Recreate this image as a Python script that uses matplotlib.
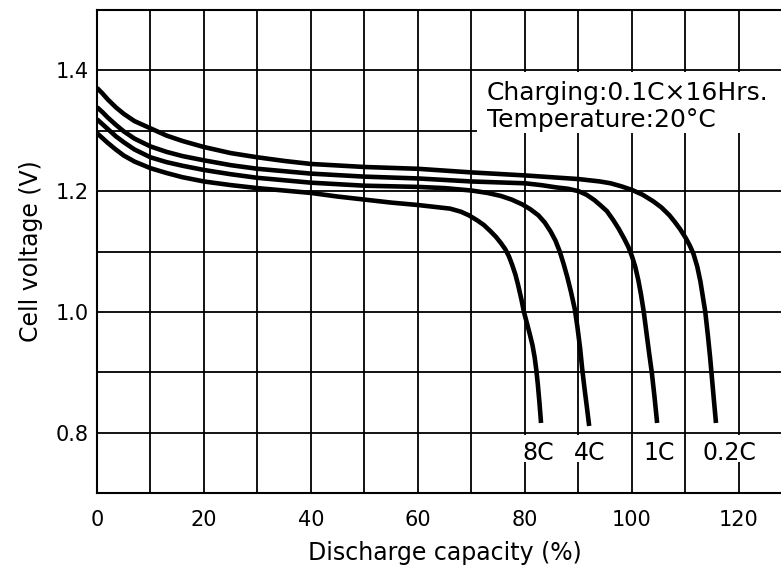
import matplotlib
matplotlib.use("Agg")
import matplotlib.pyplot as plt
from matplotlib.patches import Rectangle
from matplotlib.ticker import MultipleLocator

plt.rcParams['font.family'] = ['DejaVu Sans']

# discharge curves: capacity (%) and cell voltage (V)
cap_02C = [0, 1, 2, 3.5, 5, 7, 10, 13, 16, 20, 25, 30, 35, 40, 50, 60, 70,
           80, 90, 94, 96, 98, 100, 102, 104, 105.5, 107, 108, 109, 110,
           110.8, 111.5, 112.2, 112.8, 113.3, 113.7, 114.2, 114.6, 114.9,
           115.3, 115.7]
volt_02C = [1.371, 1.362, 1.352, 1.339, 1.328, 1.316, 1.304, 1.292, 1.283,
            1.273, 1.263, 1.256, 1.250, 1.245, 1.240, 1.237, 1.231, 1.226,
            1.220, 1.216, 1.213, 1.208, 1.202, 1.194, 1.183, 1.173, 1.160,
            1.149, 1.137, 1.123, 1.110, 1.096, 1.075, 1.050, 1.022, 1.000,
            0.960, 0.925, 0.895, 0.855, 0.816]

cap_1C = [0, 1, 2, 3.5, 5, 7, 10, 13, 16, 20, 25, 30, 40, 50, 60, 70, 80,
          83, 86, 88, 90, 91.5, 93, 94.3, 95.3, 96.5, 97.5, 98.5, 99.3,
          100.0, 100.6, 101.2, 101.7, 102.2, 102.7, 103.2, 103.7, 104.2,
          104.7]
volt_1C = [1.339, 1.331, 1.322, 1.310, 1.299, 1.287, 1.274, 1.265, 1.258,
           1.251, 1.243, 1.237, 1.229, 1.224, 1.221, 1.216, 1.213, 1.210,
           1.206, 1.204, 1.200, 1.194, 1.185, 1.175, 1.167, 1.152, 1.138,
           1.122, 1.108, 1.092, 1.075, 1.052, 1.028, 1.000, 0.966, 0.932,
           0.900, 0.860, 0.816]

cap_4C = [0, 1, 2, 3.5, 5, 7, 10, 13, 16, 20, 25, 30, 40, 50, 60, 65, 70,
          73, 75.5, 77.5, 79.5, 81, 82.5, 83.7, 84.8, 85.7, 86.5, 87.2,
          87.9, 88.6, 89.3, 89.8, 90.3, 90.7, 91.1, 91.6, 92.0]
volt_4C = [1.319, 1.311, 1.303, 1.291, 1.281, 1.269, 1.256, 1.248, 1.242,
           1.235, 1.228, 1.222, 1.214, 1.209, 1.207, 1.205, 1.201, 1.197,
           1.192, 1.186, 1.178, 1.170, 1.160, 1.148, 1.133, 1.118, 1.100,
           1.080, 1.058, 1.033, 1.005, 0.975, 0.940, 0.905, 0.875, 0.840,
           0.811]

cap_8C = [0, 1, 2, 3.5, 5, 7, 10, 13, 16, 20, 25, 30, 40, 45, 50, 55, 60,
          64, 66, 68, 69.5, 71, 72.3, 73.5, 74.6, 75.5, 76.3, 77.0, 77.6,
          78.2, 78.7, 79.3, 79.8, 80.4, 80.9, 81.4, 81.8, 82.1, 82.4, 82.7,
          83.0]
volt_8C = [1.296, 1.288, 1.280, 1.269, 1.259, 1.249, 1.238, 1.230, 1.223,
           1.216, 1.210, 1.205, 1.197, 1.191, 1.186, 1.181, 1.177, 1.173,
           1.171, 1.166, 1.160, 1.152, 1.144, 1.134, 1.124, 1.114, 1.104,
           1.092, 1.078, 1.062, 1.045, 1.022, 1.000, 0.980, 0.963, 0.945,
           0.925, 0.905, 0.880, 0.850, 0.816]

rate_labels = ['8C', '4C', '1C', '0.2C']
label_x = [82.4, 92.1, 105.0, 118.3]
label_w = [6.6, 6.2, 6.2, 11.0]
label_y = 0.766

fig = plt.figure(figsize=(7.81, 5.68), dpi=100)
ax = fig.add_axes([0.1242, 0.132, 0.8905, 0.8504])

ax.set_xlim(0, 130)
ax.set_ylim(0.7, 1.5)
ax.xaxis.set_major_locator(MultipleLocator(20))
ax.xaxis.set_minor_locator(MultipleLocator(10))
ax.set_yticks([0.8, 1.0, 1.2, 1.4])
ax.yaxis.set_minor_locator(MultipleLocator(0.1))
ax.set_yticklabels(['0.8', '1.0', '1.2', '1.4'])

ax.set_axisbelow(True)
ax.grid(which='both', color='black', linewidth=1.3)
for s in ['left', 'top', 'bottom']:
    ax.spines[s].set_linewidth(1.5)
ax.spines['right'].set_visible(False)

ax.tick_params(which='both', length=0, labelsize=15)
ax.tick_params(axis='x', pad=12)
ax.tick_params(axis='y', pad=6)

for cap, volt in [(cap_02C, volt_02C), (cap_1C, volt_1C),
                  (cap_4C, volt_4C), (cap_8C, volt_8C)]:
    ax.plot(cap, volt, color='black', linewidth=3.3, zorder=3,
            solid_capstyle='butt', solid_joinstyle='round')

# labels under the curve ends, blanking the grid behind them
for lab, xc, w in zip(rate_labels, label_x, label_w):
    ax.add_patch(Rectangle((xc - w / 2, 0.752), w, 0.044,
                           facecolor='white', edgecolor='none', zorder=1))
    ax.text(xc, label_y, lab, ha='center', va='center', fontsize=17,
            zorder=4)

# test conditions box
ax.add_patch(Rectangle((71.0, 1.297), 60, 0.101, facecolor='white',
                       edgecolor='none', zorder=1))
ax.text(72.9, 1.362, 'Charging:0.1C\u00d716Hrs.', fontsize=18,
        ha='left', va='center', zorder=4)
ax.text(72.9, 1.318, 'Temperature:20\u00b0C', fontsize=18,
        ha='left', va='center', zorder=4)

ax.set_xlabel('Discharge capacity (%)', fontsize=17, labelpad=8)
ax.set_ylabel('Cell voltage (V)', fontsize=17, labelpad=9)

fig.savefig('out.png', dpi=100)
